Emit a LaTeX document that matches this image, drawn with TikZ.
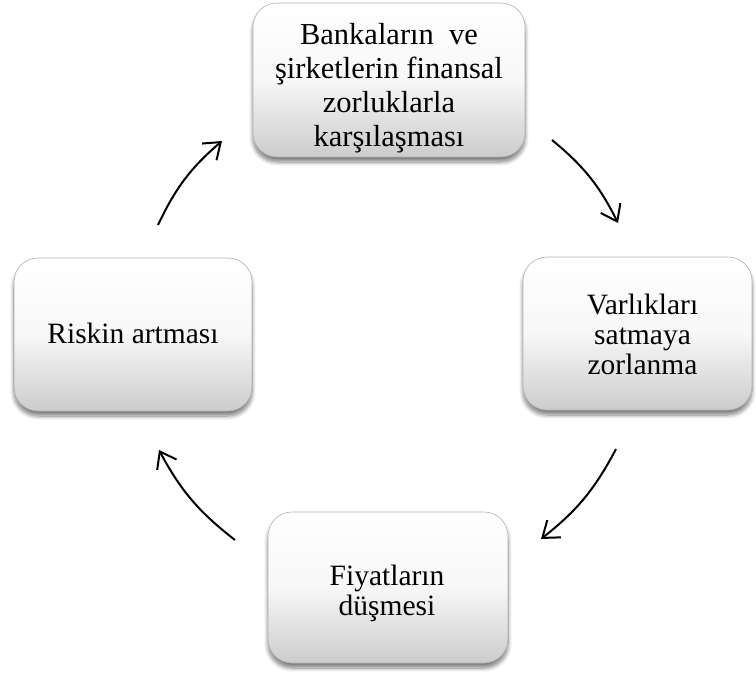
\documentclass[tikz,border=0pt]{standalone}
\usepackage{fontspec}
\setmainfont{Liberation Serif}
\usetikzlibrary{arrows.meta,shadows.blur}
\newcommand\mytxt[3]{\raisebox{#2}[0pt][0pt]{\makebox[0pt]{\hspace*{#1}\hspace*{#1}\begin{tabular}[t]{@{}c@{}}#3\end{tabular}}}}
\begin{document}
\begin{tikzpicture}[x=1pt,y=-1pt,
  box/.style={rounded corners=24pt, draw=black!30, line width=0.6pt,
    top color=white, bottom color=black!20, middle color=black!3,
    inner sep=0pt, align=center,
    blur shadow={shadow xshift=0pt, shadow yshift=-5pt, shadow blur radius=4pt, shadow blur steps=8, shadow opacity=50}},
  bigfont/.style={font=\fontsize{30.5}{34}\selectfont},
  smallfont/.style={font=\fontsize{29.5}{30}\selectfont},
  cyc/.style={line width=2pt, -{Straight Barb[length=15pt,width=22pt]}}]
\useasboundingbox (0,0) rectangle (756,674);
\node[box, bigfont, minimum width=272pt, minimum height=154pt] (topbox) at (389,80)
  {\mytxt{0pt}{35pt}{Bankaların\ \ ve\\şirketlerin finansal\\zorluklarla\\karşılaşması}};
\node[box, smallfont, minimum width=229pt, minimum height=153pt] (rightbox) at (637.5,333.5)
  {\mytxt{5pt}{19.5pt}{Varlıkları\\satmaya\\zorlanma}};
\node[box, smallfont, minimum width=238pt, minimum height=153pt] (leftbox) at (133,334.5)
  {\mytxt{0pt}{-8.5pt}{Riskin artması}};
\node[box, smallfont, minimum width=240pt, minimum height=151pt] (bottombox) at (388,587.5)
  {\mytxt{-1pt}{2.5pt}{Fiyatların\\düşmesi}};
\coordinate (a1s) at (158,225);
\coordinate (a1e) at (222,141);
\coordinate (a2s) at (552,140);
\coordinate (a2e) at (618,223);
\coordinate (a3s) at (616,449);
\coordinate (a3e) at (541,539);
\coordinate (a4s) at (235,540);
\coordinate (a4e) at (159,450);
\draw[cyc] (a1s) to[bend left=12] (a1e);
\draw[cyc] (a2s) to[bend left=12] (a2e);
\draw[cyc] (a3s) to[bend left=12] (a3e);
\draw[cyc] (a4s) to[bend left=12] (a4e);
\end{tikzpicture}
\end{document}
